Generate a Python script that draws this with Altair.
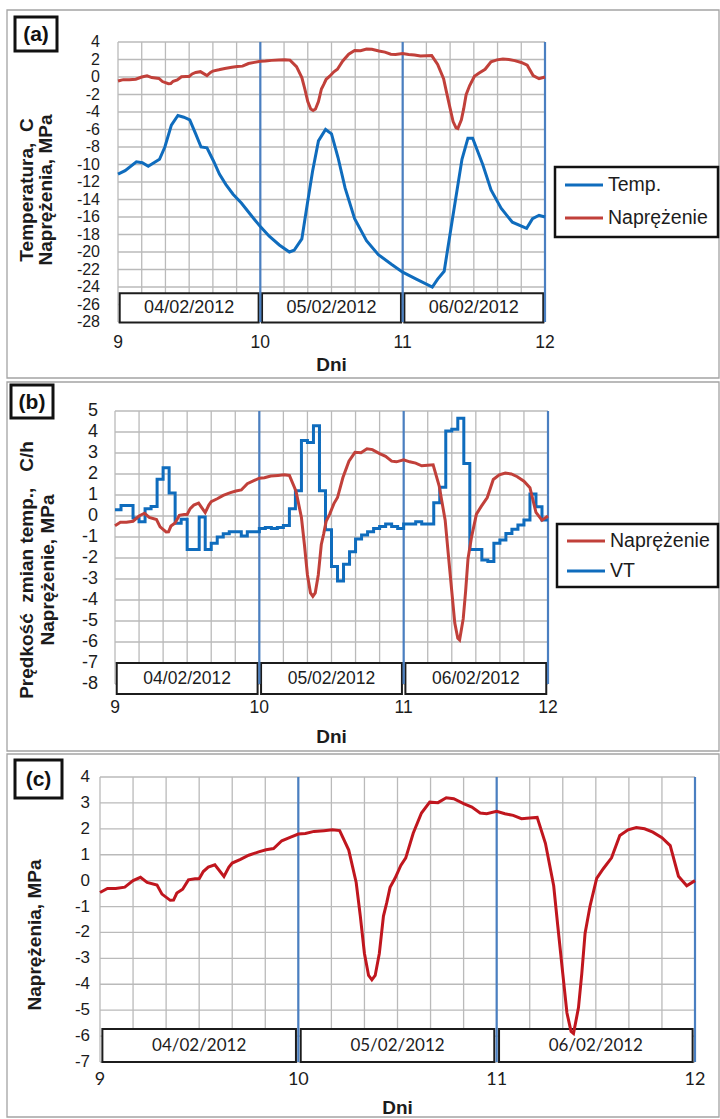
import altair as alt
import pandas as pd

W, H = 720, 1119
SANS = "Liberation Sans"
ROUND = "Lato"
NB = "\u00a0"

BLUE = "#0f6cbd"
RED_AB = "#c1403a"
RED_C = "#c0161e"
DAY_BLUE = "#4a7fc1"
GRID = "#bababa"
FRAME = "#a4a4a4"
INK = "#1c1c1c"

# Naprężenie [MPa]; time in hours counted from the start of day 9
stress_h = [0, 0.9, 1.9, 3.0, 4.0, 4.9, 5.7, 6.9, 7.5, 8.5, 8.9, 9.3, 10.0, 10.7, 11.5,
            12.0, 12.5, 13.1, 13.9, 15.0, 15.6, 16.0, 17.0, 18.0, 19.2, 20.1, 21.0, 22.0, 23.0, 24.0,
            24.85, 25.9, 27.1, 28.1, 29.0, 30.1, 31.0, 31.5, 32.0, 32.5, 32.9, 33.3, 33.8, 34.3, 34.7,
            35.1, 35.7, 36.4, 37.0, 37.9, 38.9, 39.9, 40.9, 41.9, 42.8, 44.0, 45.0, 46.0, 46.8, 48.0,
            49.0, 50.0, 51.0, 52.0, 52.9, 53.9, 54.9, 55.4, 56.0, 56.5, 57.0, 57.3, 57.9, 58.3, 58.7,
            59.3, 60.1, 60.9, 61.9, 62.9, 63.9, 64.9, 65.9, 66.9, 68.0, 69.0, 70.0, 71.0, 72.0]
stress_mpa = [-0.46, -0.30, -0.30, -0.25, 0.0, 0.13, -0.07, -0.17, -0.52, -0.76, -0.75, -0.48, -0.33, 0.03, 0.07,
              0.07, 0.35, 0.52, 0.61, 0.16, 0.52, 0.68, 0.82, 0.98, 1.11, 1.19, 1.24, 1.54, 1.67, 1.80,
              1.82, 1.90, 1.93, 1.96, 1.93, 1.18, -0.07, -1.37, -2.81, -3.66, -3.83, -3.66, -2.81, -1.37, -0.85,
              -0.26, 0.09, 0.59, 0.88, 1.83, 2.61, 3.03, 3.01, 3.20, 3.16, 2.97, 2.84, 2.61, 2.58, 2.68,
              2.58, 2.52, 2.39, 2.42, 2.44, 1.44, -0.20, -1.76, -3.59, -5.10, -5.82, -5.90, -4.90, -3.59, -2.03,
              -0.98, 0.09, 0.46, 0.88, 1.74, 1.96, 2.05, 2.00, 1.87, 1.66, 1.35, 0.17, -0.20, 0.0]

# Temperatura [C]
temp_h = [0, 1.2, 3.1, 4.1, 5.1, 7.0, 7.9, 9.0, 10.1, 11.1,
          12.1, 13.1, 14.0, 15.0, 16.1, 17.1, 18.2, 19.4, 20.8, 22.2,
          24.0, 25.5, 27.2, 28.9, 29.7, 31.0, 31.9, 32.8, 33.8, 35.0,
          36.0, 37.1, 38.3, 39.9, 41.9, 43.9, 46.1, 48.0, 50.3, 53.0,
          53.9, 55.0, 56.4, 58.0, 59.0, 59.8, 61.5, 62.9, 64.6, 66.5,
          68.9, 69.9, 71.0, 72.0]
temp_c = [-11.1, -10.7, -9.7, -9.8, -10.2, -9.4, -8.0, -5.5, -4.4, -4.6,
          -4.9, -6.5, -8.0, -8.1, -9.6, -11.1, -12.3, -13.4, -14.4, -15.6,
          -17.1, -18.2, -19.2, -20.0, -19.8, -18.5, -14.6, -10.8, -7.3, -6.0,
          -6.5, -9.2, -12.7, -16.2, -18.7, -20.3, -21.4, -22.3, -23.1, -24.0,
          -23.1, -22.2, -16.2, -9.4, -7.0, -7.0, -10.0, -12.9, -15.0, -16.6,
          -17.3, -16.2, -15.8, -16.0]

# VT - prędkość zmian temperatury [C/h], hourly steps
vt_h = list(range(73))
vt_rate = [0.3, 0.5, 0.5, -0.1, -0.27, 0.35, 0.45, 1.75, 2.3, 1.1,
           -0.35, -0.15, -1.6, -1.6, -0.05, -1.6, -1.3, -1.0, -0.85, -0.75,
           -0.75, -0.95, -0.75, -0.75, -0.6, -0.55, -0.6, -0.55, -0.45, 0.35,
           1.2, 3.6, 3.5, 4.3, 1.2, -0.65, -2.4, -3.1, -2.3, -1.7,
           -1.1, -0.9, -0.75, -0.6, -0.5, -0.38, -0.5, -0.6, -0.38, -0.38,
           -0.27, -0.38, -0.38, 0.63, 1.37, 4.05, 4.13, 4.65, 2.5, -1.6,
           -1.6, -2.1, -2.17, -1.3, -1.14, -0.83, -0.63, -0.43, -0.19, 1.05,
           0.44, -0.19, -0.19]

day_start = [9, 10, 11]
day_label = ["04/02/2012", "05/02/2012", "06/02/2012"]
day_line = [10, 11, 12]
x_ticks = [9, 10, 11, 12]
x_grid = [9 + i / 6 for i in range(19)]
x_title = "Dni"

name_temp = "Temp."
name_stress = "Naprężenie"
name_vt = "VT"

# axis titles (non-breaking spaces keep the wide gaps)
title_a = ["Temperatura," + NB * 2 + "C", "Naprężenia, MPa"]
title_b = ["Prędkość" + NB * 2 + "zmian temp.," + NB * 3 + "C/h", "Naprężenie, MPa"]
title_c = ["Naprężenia, MPa"]


def series_frame(hours, values):
    return pd.DataFrame({"day": [9 + h / 24 for h in hours], "val": values})


def tick_text(v):
    return str(int(v))


stress_df = series_frame(stress_h, stress_mpa)
temp_df = series_frame(temp_h, temp_c)
vt_df = series_frame(vt_h, vt_rate)
one = pd.DataFrame({"k": [0]})


def make_panel(p):
    xs = alt.Scale(domain=[9, 12], range=[p["x0"], p["x1"]], nice=False, zero=False)
    ys = alt.Scale(domain=[p["ymin"], p["ymax"]], range=[p["ybot"], p["ytop"]], nice=False, zero=False)
    X = lambda f: alt.X(f, scale=xs, axis=None)
    Y = lambda f: alt.Y(f, scale=ys, axis=None)

    hgrid = alt.Chart(pd.DataFrame({"v": p["yticks"]})).mark_rule(color=GRID, strokeWidth=1.3).encode(
        y=Y("v:Q"), x=alt.value(p["x0"]), x2=alt.value(p["x1"]))
    vgrid = alt.Chart(pd.DataFrame({"v": x_grid})).mark_rule(color=GRID, strokeWidth=1.3).encode(
        x=X("v:Q"), y=alt.value(p["ytop"]), y2=alt.value(p["ybot"]))

    # tick labels placed through the panel scales
    ylab = alt.Chart(pd.DataFrame({"v": p["yticks"], "t": [tick_text(v) for v in p["yticks"]]})).mark_text(
        font=SANS, fontSize=p["ysize"], color=INK, align="right", baseline="middle").encode(
        y=Y("v:Q"), x=alt.value(p["x0"] - p["ypad"]), text="t:N")
    xlab = alt.Chart(pd.DataFrame({"v": x_ticks, "t": [tick_text(v) for v in x_ticks]})).mark_text(
        font=p["xfont"], fontSize=p["xsize"], color=INK, align="center", baseline="middle").encode(
        x=X("v:Q"), y=alt.value(p["xlab_y"]), text="t:N")
    xtitle = alt.Chart(one).mark_text(font=SANS, fontSize=19, fontWeight="bold", color=INK,
                                      align="center", baseline="middle").encode(
        x=alt.value((p["x0"] + p["x1"]) / 2), y=alt.value(p["dni_y"]), text=alt.value(x_title))
    ytitles = [
        alt.Chart(one).mark_text(font=SANS, fontSize=19, fontWeight="bold", color=INK, angle=270,
                                 align="center", baseline="middle").encode(
            x=alt.value(tx), y=alt.value(p["ty"]), text=alt.value(line))
        for line, tx in zip(p["ytitle"], p["ytitle_x"])
    ]

    gap = 0.012
    boxes_df = pd.DataFrame({
        "start": [d + gap for d in day_start],
        "end": [d + 1 - gap for d in day_start],
        "mid": [d + 0.5 for d in day_start],
        "label": day_label,
        "top": [p["box"][0]] * 3,
        "bot": [p["box"][1]] * 3,
        "ym": [(p["box"][0] + p["box"][1]) / 2] * 3,
    })
    boxes = alt.Chart(boxes_df).mark_rect(fill="white", stroke=INK, strokeWidth=2).encode(
        x=X("start:Q"), x2="end:Q", y=Y("top:Q"), y2="bot:Q")
    box_text = alt.Chart(boxes_df).mark_text(font=p["boxfont"], fontSize=p["boxsize"], color=INK,
                                             baseline="middle").encode(
        x=X("mid:Q"), y=Y("ym:Q"), text="label:N")

    days = alt.Chart(pd.DataFrame({"d": day_line})).mark_rule(color=DAY_BLUE, strokeWidth=2.2).encode(
        x=X("d:Q"), y=alt.value(p["ytop"]), y2=alt.value(p["ybot"]))

    layers = [hgrid, vgrid, boxes, box_text, days, ylab, xlab, xtitle] + ytitles
    for df, color, interp in p["series"]:
        layers.append(alt.Chart(df).mark_line(color=color, strokeWidth=3, interpolate=interp).encode(
            x=X("day:Q"), y=Y("val:Q")))

    # panel frame and tag
    fx0, fy0, fx1, fy1 = p["frame"]
    layers.append(alt.Chart(one).mark_rect(fillOpacity=0, stroke=FRAME, strokeWidth=1.3).encode(
        x=alt.value(fx0), x2=alt.value(fx1), y=alt.value(fy0), y2=alt.value(fy1)))
    tx0, ty0, tx1, ty1 = p["tag_box"]
    layers.append(alt.Chart(one).mark_rect(fill="white", stroke="#111111", strokeWidth=3).encode(
        x=alt.value(tx0), x2=alt.value(tx1), y=alt.value(ty0), y2=alt.value(ty1)))
    layers.append(alt.Chart(one).mark_text(font=SANS, fontSize=21, fontWeight="bold", color="#111111",
                                           baseline="middle", align="center").encode(
        x=alt.value((tx0 + tx1) / 2), y=alt.value((ty0 + ty1) / 2 + 1), text=alt.value(p["tag"])))

    # legend box
    if p.get("legend"):
        lx0, ly0, lx1, ly1 = p["legend"]["box"]
        layers.append(alt.Chart(one).mark_rect(fill="white", stroke="#111111", strokeWidth=2.5).encode(
            x=alt.value(lx0), x2=alt.value(lx1), y=alt.value(ly0), y2=alt.value(ly1)))
        for name, color, yy in p["legend"]["items"]:
            layers.append(alt.Chart(one).mark_rule(color=color, strokeWidth=3).encode(
                x=alt.value(lx0 + 10), x2=alt.value(lx0 + 48), y=alt.value(yy)))
            layers.append(alt.Chart(one).mark_text(font=SANS, fontSize=19.5, color=INK, align="left",
                                                   baseline="middle").encode(
                x=alt.value(lx0 + 53), y=alt.value(yy), text=alt.value(name)))

    return alt.layer(*layers)


panel_a = make_panel(dict(
    x0=118, x1=545, ytop=42, ybot=322, ymin=-28, ymax=4, yticks=list(range(-28, 5, 2)),
    box=(-24.7, -28.05), xfont=SANS, xsize=17.5, xlab_y=343, dni_y=365, ysize=16, ypad=18,
    ytitle=title_a, ytitle_x=[27, 46], ty=190,
    boxfont=SANS, boxsize=18,
    series=[(stress_df, RED_AB, "linear"), (temp_df, BLUE, "linear")],
    frame=(7, 10, 719, 378), tag_box=(15, 17, 57, 51), tag="(a)",
    legend=dict(box=(555, 167, 718, 237), items=[(name_temp, BLUE, 185), (name_stress, RED_AB, 218)]),
))

panel_b = make_panel(dict(
    x0=115, x1=548, ytop=411, ybot=684, ymin=-8, ymax=5, yticks=list(range(-8, 6)),
    box=(-7.0, -8.48), xfont=SANS, xsize=17.5, xlab_y=708, dni_y=737, ysize=18, ypad=17,
    ytitle=title_b, ytitle_x=[27, 48], ty=570,
    boxfont=SANS, boxsize=17.5,
    series=[(vt_df, BLUE, "step-after"), (stress_df, RED_AB, "linear")],
    frame=(7, 382, 719, 751), tag_box=(11, 385, 53, 418), tag="(b)",
    legend=dict(box=(557, 524, 718, 587), items=[(name_stress, RED_AB, 541), (name_vt, BLUE, 571)]),
))

panel_c = make_panel(dict(
    x0=100, x1=695, ytop=777, ybot=1062, ymin=-7, ymax=4, yticks=list(range(-7, 5)),
    box=(-5.73, -7.0), xfont=ROUND, xsize=18, xlab_y=1080, dni_y=1108, ysize=17, ypad=10,
    ytitle=title_c, ytitle_x=[35], ty=935,
    boxfont=ROUND, boxsize=17,
    series=[(stress_df, RED_C, "linear")],
    frame=(7, 754, 719, 1117), tag_box=(15, 760, 62, 798), tag="(c)",
))

chart = alt.layer(panel_a, panel_b, panel_c).resolve_scale(
    x="independent", y="independent"
).properties(
    width=W, height=H, padding=0, background="white",
    autosize=alt.AutoSizeParams(type="none"),
).configure_view(strokeWidth=0)

chart.save("out.html", embed_options={"renderer": "svg", "actions": False})
